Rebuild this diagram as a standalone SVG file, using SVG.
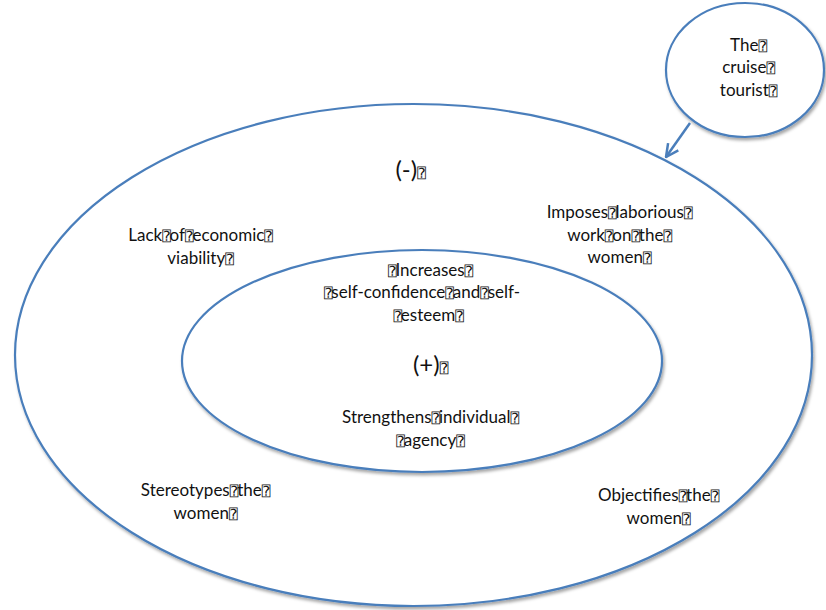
<svg xmlns="http://www.w3.org/2000/svg" width="826" height="610" viewBox="0 0 826 610">
  <style>
    .ring { fill: #ffffff; stroke: #4a7ebb; stroke-width: 2.2; }
    .lbl { font-family: "Lato", "DejaVu Sans Mono", "DejaVu Sans", sans-serif; font-size: 17px; fill: #111111; text-anchor: middle; }
    .sign { font-size: 24px; }
    .q { font-family: "DejaVu Sans Mono", "DejaVu Sans", monospace; font-size: 14px; letter-spacing: -1px; }
    .link { fill: none; stroke: #4a7ebb; stroke-width: 2.5; }
  </style>
  <defs>
    <filter id="shadow" x="-5%" y="-5%" width="110%" height="115%">
      <feDropShadow dx="1.5" dy="2.5" stdDeviation="1.5" flood-color="#000000" flood-opacity="0.35"/>
    </filter>
    <marker id="open-arrow" viewBox="0 0 12 12" refX="11" refY="6" markerWidth="6" markerHeight="6" orient="auto" markerUnits="strokeWidth">
      <path d="M1,1 L11,6 L1,11" fill="none" stroke="#4a7ebb" stroke-width="2"/>
    </marker>
  </defs>

  <!-- outer ring: negative effects -->
  <g id="outer">
    <ellipse class="ring" cx="413.5" cy="355" rx="398.5" ry="251" filter="url(#shadow)"/>
    <text class="lbl sign" x="410" y="178">(-)<tspan class="q">⍰</tspan></text>
    <text class="lbl" x="200" y="241">Lack<tspan class="q">⍰</tspan>of<tspan class="q">⍰</tspan>economic<tspan class="q">⍰</tspan></text>
    <text class="lbl" x="200" y="264">viability<tspan class="q">⍰</tspan></text>
    <text class="lbl" x="619" y="218">Imposes<tspan class="q">⍰</tspan>laborious<tspan class="q">⍰</tspan></text>
    <text class="lbl" x="619" y="241">work<tspan class="q">⍰</tspan>on<tspan class="q">⍰</tspan>the<tspan class="q">⍰</tspan></text>
    <text class="lbl" x="619" y="263">women<tspan class="q">⍰</tspan></text>
    <text class="lbl" x="205" y="496">Stereotypes<tspan class="q">⍰</tspan>the<tspan class="q">⍰</tspan></text>
    <text class="lbl" x="205" y="519">women<tspan class="q">⍰</tspan></text>
    <text class="lbl" x="658" y="501">Objectifies<tspan class="q">⍰</tspan>the<tspan class="q">⍰</tspan></text>
    <text class="lbl" x="658" y="524">women<tspan class="q">⍰</tspan></text>
  </g>

  <!-- inner ring: positive effects -->
  <g id="inner">
    <ellipse class="ring" cx="422" cy="361" rx="240" ry="111" filter="url(#shadow)"/>
    <text class="lbl" x="430" y="276"><tspan class="q">⍰</tspan>Increases<tspan class="q">⍰</tspan></text>
    <text class="lbl" x="422" y="298"><tspan class="q">⍰</tspan>self-confidence<tspan class="q">⍰</tspan>and<tspan class="q">⍰</tspan>self-</text>
    <text class="lbl" x="428" y="321"><tspan class="q">⍰</tspan>esteem<tspan class="q">⍰</tspan></text>
    <text class="lbl sign" x="430" y="373">(+)<tspan class="q">⍰</tspan></text>
    <text class="lbl" x="430" y="423">Strengthens<tspan class="q">⍰</tspan>individual<tspan class="q">⍰</tspan></text>
    <text class="lbl" x="430" y="446"><tspan class="q">⍰</tspan>agency<tspan class="q">⍰</tspan></text>
  </g>

  <!-- the visitor -->
  <g id="tourist">
    <ellipse class="ring" cx="745" cy="70" rx="79" ry="67" filter="url(#shadow)"/>
    <text class="lbl" x="748" y="51">The<tspan class="q">⍰</tspan></text>
    <text class="lbl" x="748" y="73">cruise<tspan class="q">⍰</tspan></text>
    <text class="lbl" x="748" y="96">tourist<tspan class="q">⍰</tspan></text>
  </g>

  <!-- connectors -->
  <g id="connectors">
    <line class="link" x1="690" y1="123" x2="666" y2="157" marker-end="url(#open-arrow)"/>
  </g>
</svg>
